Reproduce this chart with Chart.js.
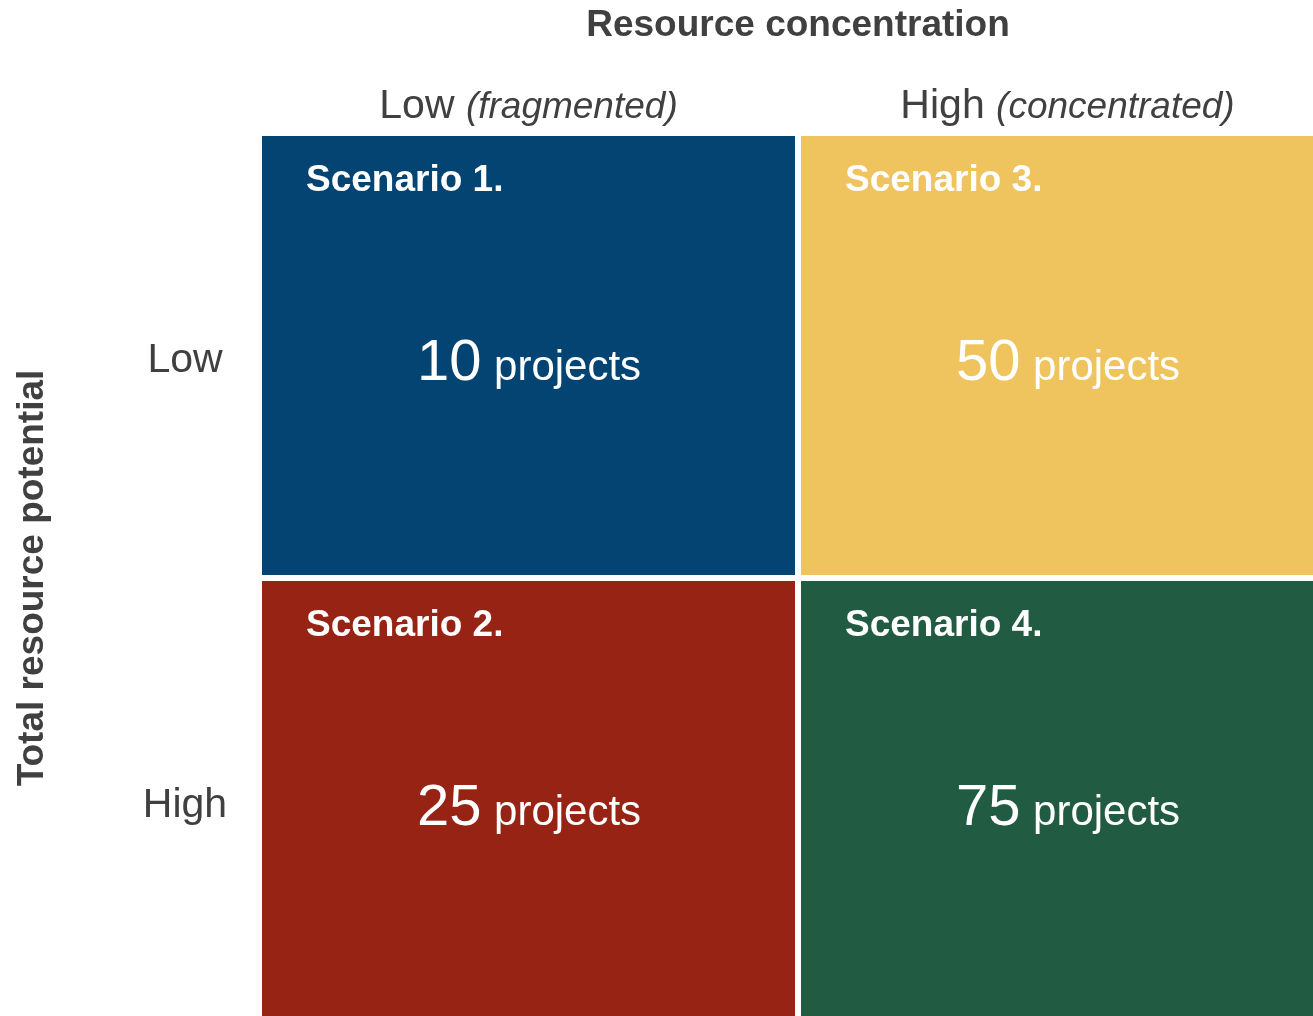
<!DOCTYPE html>
<html>
<head>
<meta charset="utf-8">
<script src="https://cdn.jsdelivr.net/npm/chart.js@4"></script>
<style>
  html, body { margin: 0; padding: 0; background: #ffffff; overflow: hidden; }
  canvas { display: block; }
</style>
</head>
<body>
<canvas id="c" width="1313" height="1016"></canvas>
<script>
// ---- Data ----
const xTitle = "Resource concentration";
const yTitle = "Total resource potential";
const columnLabels = ["Low", "High"];
const columnQualifiers = ["(fragmented)", "(concentrated)"];
const rowLabels = ["Low", "High"];
const scenarioLabels = ["Scenario 1.", "Scenario 2.", "Scenario 3.", "Scenario 4."];
const cellColumn = [0, 0, 1, 1];
const cellRow = [0, 1, 0, 1];
const projectCounts = [10, 25, 50, 75];
const projectUnit = "projects";
const cellColors = ["#034472", "#962314", "#EFC45E", "#215B42"];

const FONT = '"Liberation Sans", Arial, Helvetica, sans-serif';
const TEXT_DARK = "#404040";

const cellData = projectCounts.map((v, i) => ({
  x: cellColumn[i] + 0.5,
  y: [cellRow[i], cellRow[i] + 1]
}));

const matrixText = {
  id: "matrixText",
  afterDatasetsDraw(chart) {
    const ctx = chart.ctx;
    const xs = chart.scales.x, ys = chart.scales.y;
    ctx.save();

    // Top title
    const xMidAll = (xs.getPixelForValue(0) + xs.getPixelForValue(2)) / 2;
    ctx.fillStyle = TEXT_DARK;
    ctx.textBaseline = "alphabetic";
    ctx.textAlign = "center";
    ctx.font = "bold 37px " + FONT;
    ctx.fillText(xTitle, xMidAll, 36);

    // Column headers (mixed regular + italic)
    columnLabels.forEach((lab, c) => {
      const cx = (xs.getPixelForValue(c) + xs.getPixelForValue(c + 1)) / 2;
      ctx.font = "41px " + FONT;
      const w1 = ctx.measureText(lab + " ").width;
      ctx.font = "italic 37px " + FONT;
      const w2 = ctx.measureText(columnQualifiers[c]).width;
      const start = cx - (w1 + w2) / 2;
      ctx.textAlign = "left";
      ctx.font = "41px " + FONT;
      ctx.fillText(lab + " ", start, 118);
      ctx.font = "italic 37px " + FONT;
      ctx.fillText(columnQualifiers[c], start + w1, 118);
    });

    // Row labels
    rowLabels.forEach((lab, r) => {
      const mid = (ys.getPixelForValue(r) + ys.getPixelForValue(r + 1)) / 2;
      ctx.font = "41px " + FONT;
      ctx.textAlign = "center";
      ctx.fillText(lab, chart.chartArea.left - 74, mid + 16);
    });

    // Y title (rotated)
    const yMidAll = (ys.getPixelForValue(0) + ys.getPixelForValue(2)) / 2;
    ctx.save();
    ctx.translate(33, yMidAll);
    ctx.rotate(-Math.PI / 2);
    ctx.font = "bold 37px " + FONT;
    ctx.textAlign = "center";
    ctx.textBaseline = "middle";
    ctx.fillText(yTitle, 0, 0);
    ctx.restore();

    // Cell texts
    ctx.fillStyle = "#ffffff";
    ctx.textBaseline = "alphabetic";
    projectCounts.forEach((n, i) => {
      const c = cellColumn[i], r = cellRow[i];
      const left = xs.getPixelForValue(c);
      const cx = (left + xs.getPixelForValue(c + 1)) / 2;
      const top = ys.getPixelForValue(r);
      const mid = (top + ys.getPixelForValue(r + 1)) / 2;

      ctx.textAlign = "left";
      ctx.font = "bold 37px " + FONT;
      ctx.fillText(scenarioLabels[i], left + 47, top + 58);

      const numStr = String(n);
      const unitStr = " " + projectUnit;
      ctx.font = "58px " + FONT;
      const w1 = ctx.measureText(numStr).width;
      ctx.font = "42px " + FONT;
      const w2 = ctx.measureText(unitStr).width;
      const start = cx - (w1 + w2) / 2;
      ctx.font = "58px " + FONT;
      ctx.fillText(numStr, start, mid + 24.5);
      ctx.font = "42px " + FONT;
      ctx.fillText(unitStr, start + w1 + 1, mid + 24.5);
    });

    ctx.restore();
  }
};

new Chart(document.getElementById("c"), {
  type: "bar",
  data: {
    datasets: [{
      data: cellData,
      backgroundColor: cellColors,
      borderColor: "#ffffff",
      borderWidth: 3,
      borderSkipped: false,
      inflateAmount: 0,
      barPercentage: 1,
      categoryPercentage: 1
    }]
  },
  options: {
    responsive: false,
    devicePixelRatio: 1,
    animation: false,
    layout: { padding: { left: 259, top: 133, right: 0, bottom: 0 } },
    plugins: { legend: { display: false }, tooltip: { enabled: false } },
    scales: {
      x: {
        type: "linear",
        display: false,
        offset: false,
        min: 0,
        max: 1054 / 539,
        afterBuildTicks: (s) => { s.ticks = [{ value: 0 }, { value: 1 }, { value: 2 }]; }
      },
      y: {
        type: "linear",
        display: false,
        offset: false,
        reverse: true,
        min: 0,
        max: 883 / 445,
        afterBuildTicks: (s) => { s.ticks = [{ value: 0 }, { value: 1 }, { value: 2 }]; }
      }
    }
  },
  plugins: [matrixText]
});
</script>
</body>
</html>
